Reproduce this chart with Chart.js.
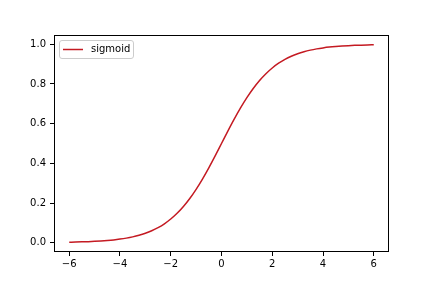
<!DOCTYPE html>
<html>
<head>
<meta charset="utf-8">
<script src="https://cdn.jsdelivr.net/npm/chart.js@4"></script>
<style>
  html, body { margin: 0; padding: 0; background: #fff; }
  #wrap { width: 432px; height: 288px; }
</style>
</head>
<body>
<div id="wrap"><canvas id="c" width="432" height="288"></canvas></div>
<script>
// x positions and values
const xValues = [-6, -5.75, -5.5, -5.25, -5, -4.75, -4.5, -4.25, -4, -3.75, -3.5, -3.25, -3, -2.75, -2.5, -2.25,
  -2, -1.75, -1.5, -1.25, -1, -0.75, -0.5, -0.25, 0, 0.25, 0.5, 0.75, 1, 1.25, 1.5, 1.75,
  2, 2.25, 2.5, 2.75, 3, 3.25, 3.5, 3.75, 4, 4.25, 4.5, 4.75, 5, 5.25, 5.5, 5.75, 6];
const sigmoidValues = [0.0025, 0.0032, 0.0041, 0.0052, 0.0067, 0.0086, 0.0110, 0.0140, 0.0180, 0.0230, 0.0293, 0.0373,
  0.0474, 0.0601, 0.0759, 0.0953, 0.1192, 0.1480, 0.1824, 0.2227, 0.2689, 0.3208, 0.3775, 0.4378,
  0.5000, 0.5622, 0.6225, 0.6792, 0.7311, 0.7773, 0.8176, 0.8520, 0.8808, 0.9047, 0.9241, 0.9399,
  0.9526, 0.9627, 0.9707, 0.9770, 0.9820, 0.9860, 0.9890, 0.9914, 0.9933, 0.9948, 0.9959, 0.9968, 0.9975];
const xTicks = [-6, -4, -2, 0, 2, 4, 6];
const yTicks = [0.0, 0.2, 0.4, 0.6, 0.8, 1.0];
const seriesLabel = 'sigmoid';
const lineColor = '#c41a22';

const points = xValues.map((x, i) => ({ x: x, y: sigmoidValues[i] }));
const FONT = { family: 'DejaVu Sans', size: 10 };

const framePlugin = {
  id: 'frame',
  afterDatasetsDraw(chart) {
    const { ctx, chartArea: a } = chart;
    ctx.save();
    ctx.strokeStyle = '#000';
    ctx.lineWidth = 1;
    ctx.strokeRect(Math.round(a.left) + 0.5, Math.round(a.top) + 0.5,
      Math.round(a.right - a.left) - 1, Math.round(a.bottom - a.top) - 1);
    // legend
    const lx = a.left + 5, ly = a.top + 5, lw = 74, lh = 18;
    ctx.fillStyle = 'rgba(255,255,255,0.8)';
    ctx.strokeStyle = '#cccccc';
    ctx.beginPath();
    ctx.roundRect(lx + 0.5, ly + 0.5, lw, lh, 2.5);
    ctx.fill();
    ctx.stroke();
    const cy = ly + lh / 2 + 0.5;
    ctx.strokeStyle = chart.data.datasets[0].borderColor;
    ctx.lineWidth = 1.5;
    ctx.beginPath();
    ctx.moveTo(lx + 4, cy);
    ctx.lineTo(lx + 24, cy);
    ctx.stroke();
    ctx.fillStyle = '#000';
    ctx.font = '10px "DejaVu Sans"';
    ctx.textBaseline = 'middle';
    ctx.textAlign = 'left';
    ctx.fillText(chart.data.datasets[0].label, lx + 32, cy);
    ctx.restore();
  }
};

new Chart(document.getElementById('c'), {
  type: 'line',
  data: {
    datasets: [{
      label: seriesLabel,
      data: points,
      borderColor: lineColor,
      borderWidth: 1.5,
      pointRadius: 0,
      fill: false,
      tension: 0.3,
      cubicInterpolationMode: 'monotone'
    }]
  },
  options: {
    responsive: false,
    animation: false,
    devicePixelRatio: 1,
    layout: { padding: { left: 0, top: 35, right: 43, bottom: 0 } },
    plugins: { legend: { display: false }, tooltip: { enabled: false } },
    scales: {
      x: {
        type: 'linear',
        min: -6.6,
        max: 6.6,
        afterBuildTicks: s => { s.ticks = xTicks.map(v => ({ value: v })); },
        afterFit: s => { s.height = 36; },
        ticks: {
          color: '#000', font: FONT, padding: 2, maxRotation: 0,
          callback: v => String(v).replace('-', '\u2212')
        },
        grid: { drawOnChartArea: false, drawTicks: true, tickLength: 4, tickColor: '#000' },
        border: { display: false }
      },
      y: {
        type: 'linear',
        min: -0.047,
        max: 1.047,
        afterBuildTicks: s => { s.ticks = yTicks.map(v => ({ value: v })); },
        afterFit: s => { s.width = 54; },
        ticks: {
          color: '#000', font: FONT, padding: 4,
          callback: v => Number(v).toFixed(1)
        },
        grid: { drawOnChartArea: false, drawTicks: true, tickLength: 4, tickColor: '#000' },
        border: { display: false }
      }
    }
  },
  plugins: [framePlugin]
});
</script>
</body>
</html>
